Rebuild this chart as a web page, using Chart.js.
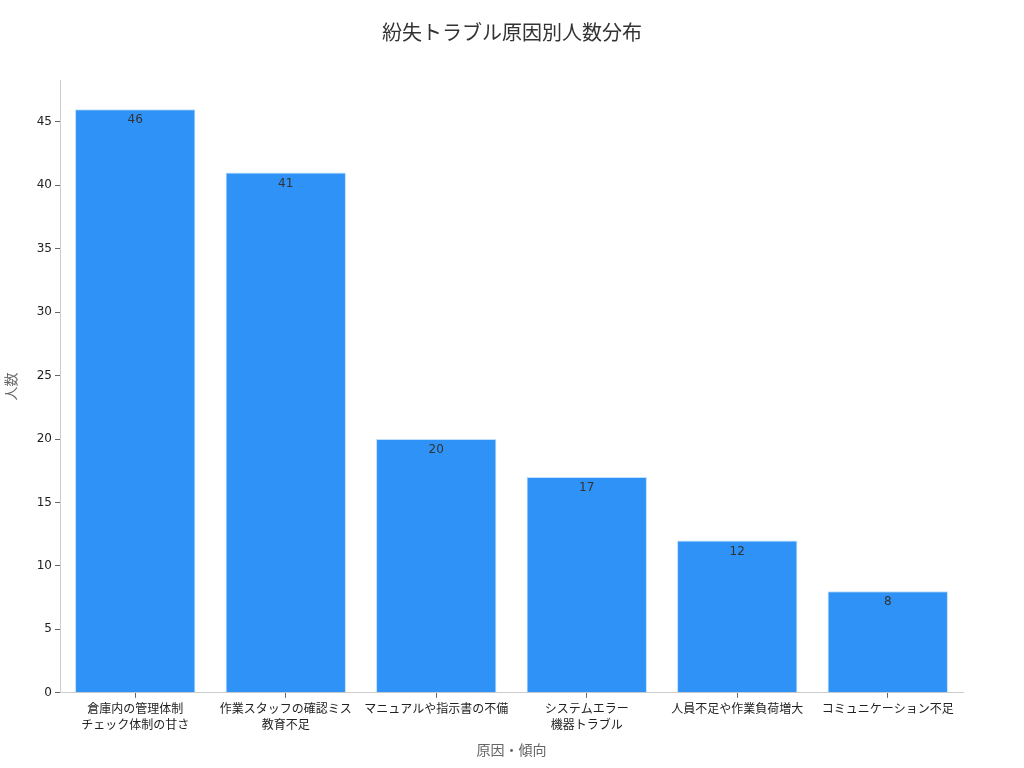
<!DOCTYPE html>
<html>
<head>
<meta charset="utf-8">
<script src="https://cdn.jsdelivr.net/npm/chart.js@4/dist/chart.umd.min.js"></script>
<style>
    html, body { margin: 0; padding: 0; background: #fff; }
    #wrap { width: 1024px; height: 768px; }
</style>
</head>
<body>
<div id="wrap"><canvas id="chart"></canvas></div>
<script>
// chart data
var causes = [
    ['倉庫内の管理体制', 'チェック体制の甘さ'],
    ['作業スタッフの確認ミス', '教育不足'],
    'マニュアルや指示書の不備',
    ['システムエラー', '機器トラブル'],
    '人員不足や作業負荷増大',
    'コミュニケーション不足'
];
var counts = [46, 41, 20, 17, 12, 8];
var yTicks = [0, 5, 10, 15, 20, 25, 30, 35, 40, 45];

var fontFamily = "'DejaVu Sans', 'Noto Sans CJK JP', sans-serif";

// draws the value just inside the top of each bar
var valueLabels = {
    id: 'valueLabels',
    afterDatasetsDraw: function (chart) {
        var ctx = chart.ctx;
        var meta = chart.getDatasetMeta(0);
        ctx.save();
        ctx.font = '12px ' + fontFamily;
        ctx.fillStyle = '#333';
        ctx.textAlign = 'center';
        ctx.textBaseline = 'top';
        meta.data.forEach(function (bar, i) {
            ctx.fillText(String(counts[i]), bar.x, bar.y + 5);
        });
        ctx.restore();
    }
};

var ctx = document.getElementById('chart').getContext('2d');
new Chart(ctx, {
    type: 'bar',
    data: {
        labels: causes,
        datasets: [{
            label: '人数',
            data: counts,
            backgroundColor: '#2f92f6',
            borderColor: '#bfe0ff',
            borderWidth: 1,
            barPercentage: 0.8,
            categoryPercentage: 1.0
        }]
    },
    options: {
        responsive: true,
        maintainAspectRatio: false,
        animation: false,
        layout: { padding: { top: 0, right: 0, bottom: 4, left: 0 } },
        plugins: {
            legend: { display: false },
            tooltip: { enabled: false },
            title: {
                display: true,
                text: '紛失トラブル原因別人数分布',
                color: '#333',
                font: { size: 20, family: fontFamily, weight: 'normal' },
                padding: { top: 23, bottom: 33 }
            }
        },
        scales: {
            x: {
                offset: true,
                grid: { display: true, offset: false, drawOnChartArea: false, drawTicks: true, tickLength: 5, color: '#666' },
                border: { color: '#ccc' },
                ticks: { color: '#222', font: { size: 12, family: fontFamily, lineHeight: 1.35 }, maxRotation: 0, padding: 4 },
                title: {
                    display: true,
                    text: '原因・傾向',
                    color: '#666',
                    font: { size: 14, family: fontFamily },
                    padding: { top: 5 }
                }
            },
            y: {
                min: 0,
                max: 48.3,
                afterBuildTicks: function (axis) {
                    axis.ticks = yTicks.map(function (v) { return { value: v }; });
                },
                afterFit: function (axis) { axis.width = 60; },
                grid: { display: true, drawOnChartArea: false, drawTicks: true, tickLength: 5, color: '#666' },
                border: { color: '#ccc' },
                ticks: { color: '#222', font: { size: 12, family: fontFamily }, padding: 3 },
                title: {
                    display: true,
                    text: '人数',
                    color: '#666',
                    font: { size: 14, family: fontFamily },
                    padding: { bottom: 4 }
                }
            },
            // empty right axis keeps the plot off the right edge
            yRight: {
                position: 'right',
                display: true,
                grid: { display: false },
                border: { display: false },
                ticks: { display: false },
                afterFit: function (axis) { axis.width = 61; }
            }
        }
    },
    plugins: [valueLabels]
});
</script>
</body>
</html>
